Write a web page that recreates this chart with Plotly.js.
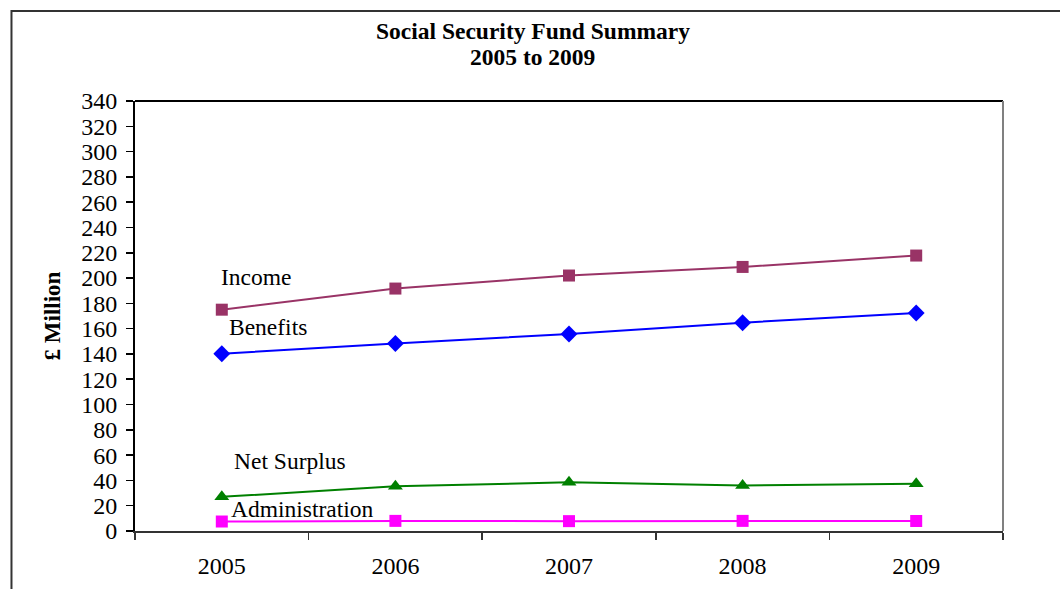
<!DOCTYPE html>
<html>
<head>
<meta charset="utf-8">
<script src="https://cdn.plot.ly/plotly-3.0.1.min.js"></script>
<style>html,body{margin:0;padding:0;background:#fff;}#chart{width:1060px;height:589px;}</style>
</head>
<body>
<div id="chart"></div>
<script>
const years = ['2005', '2006', '2007', '2008', '2009'];
const income = [175, 191.7, 202, 208.8, 217.8];
const benefits = [140.2, 148.3, 155.8, 164.7, 172.4];
const netSurplus = [27, 35.4, 38.5, 36, 37.3];
const administration = [7.5, 8, 7.8, 8, 7.9];
const seriesNames = ['Income', 'Benefits', 'Net Surplus', 'Administration'];
const yTicks = [0,20,40,60,80,100,120,140,160,180,200,220,240,260,280,300,320,340];

const font = '"Liberation Serif", "Times New Roman", serif';

function tr(name, y, color, symbol, size) {
  return {
    x: years, y: y, name: name, type: 'scatter', mode: 'lines+markers',
    line: {color: color, width: 2},
    marker: {color: color, symbol: symbol, size: size},
    cliponaxis: false, hoverinfo: 'x+y+name'
  };
}

const data = [
  tr(seriesNames[0], income, '#993366', 'square', 12),
  tr(seriesNames[1], benefits, '#0000FF', 'diamond', 13),
  tr(seriesNames[2], netSurplus, '#008000', 'triangle-up', 13),
  tr(seriesNames[3], administration, '#FF00FF', 'square', 12)
];

const labelPos = [
  {y: 201, xshift: 0},
  {y: 161.6, xshift: 8},
  {y: 55.4, xshift: 13},
  {y: 17.4, xshift: 10}
];

const annotations = seriesNames.map((n, i) => ({
  x: 0, y: labelPos[i].y, xref: 'x', yref: 'y', text: n,
  showarrow: false, xanchor: 'left', yanchor: 'middle', xshift: labelPos[i].xshift - 3,
  font: {family: font, size: 23.5, color: '#000'}
}));

annotations.push({
  x: 0.4585, y: 1.163, xref: 'paper', yref: 'paper', xanchor: 'center', yanchor: 'middle',
  text: '<b>Social Security Fund Summary</b>', showarrow: false,
  font: {family: font, size: 23.5, color: '#000'}
});
annotations.push({
  x: 0.4585, y: 1.102, xref: 'paper', yref: 'paper', xanchor: 'center', yanchor: 'middle',
  text: '<b>2005 to 2009</b>', showarrow: false,
  font: {family: font, size: 23.5, color: '#000'}
});

const layout = {
  width: 1060, height: 589,
  margin: {l: 135, r: 57, t: 101, b: 58},
  paper_bgcolor: '#fff', plot_bgcolor: '#fff',
  showlegend: false,
  font: {family: font, size: 22, color: '#000'},
  xaxis: {
    type: 'category', range: [-0.5, 4.5], tickson: 'boundaries',
    ticks: 'outside', ticklen: 7, tickwidth: 1.5, tickcolor: '#333',
    showline: true, linecolor: '#333', linewidth: 2,
    showgrid: false, zeroline: false, ticklabelstandoff: 12,
    tickfont: {family: font, size: 24, color: '#000'}
  },
  yaxis: {
    range: [0, 340], tickvals: yTicks, ticktext: yTicks.map(String),
    ticks: 'outside', ticklen: 7, tickwidth: 1.5, tickcolor: '#000',
    showline: true, linecolor: '#000', linewidth: 2,
    showgrid: false, zeroline: false, ticklabelstandoff: 4,
    tickfont: {family: font, size: 24, color: '#000'},
    title: {text: '<b>£ Million</b>', font: {family: font, size: 23, color: '#000'}, standoff: 14}
  },
  annotations: annotations,
  shapes: [
    {type: 'line', xref: 'paper', yref: 'paper', x0: 0, x1: 1, y0: 1, y1: 1, line: {color: '#000', width: 2}},
    {type: 'line', xref: 'paper', yref: 'paper', x0: 1, x1: 1, y0: 0, y1: 1, line: {color: '#808080', width: 2}},
    {type: 'rect', xref: 'paper', yref: 'paper', x0: -0.1423, x1: 1.2, y0: -0.3, y1: 1.2093, line: {color: '#333', width: 2}, fillcolor: 'rgba(0,0,0,0)', layer: 'below'}
  ]
};

Plotly.newPlot('chart', data, layout, {displayModeBar: false, staticPlot: true});
</script>
</body>
</html>
